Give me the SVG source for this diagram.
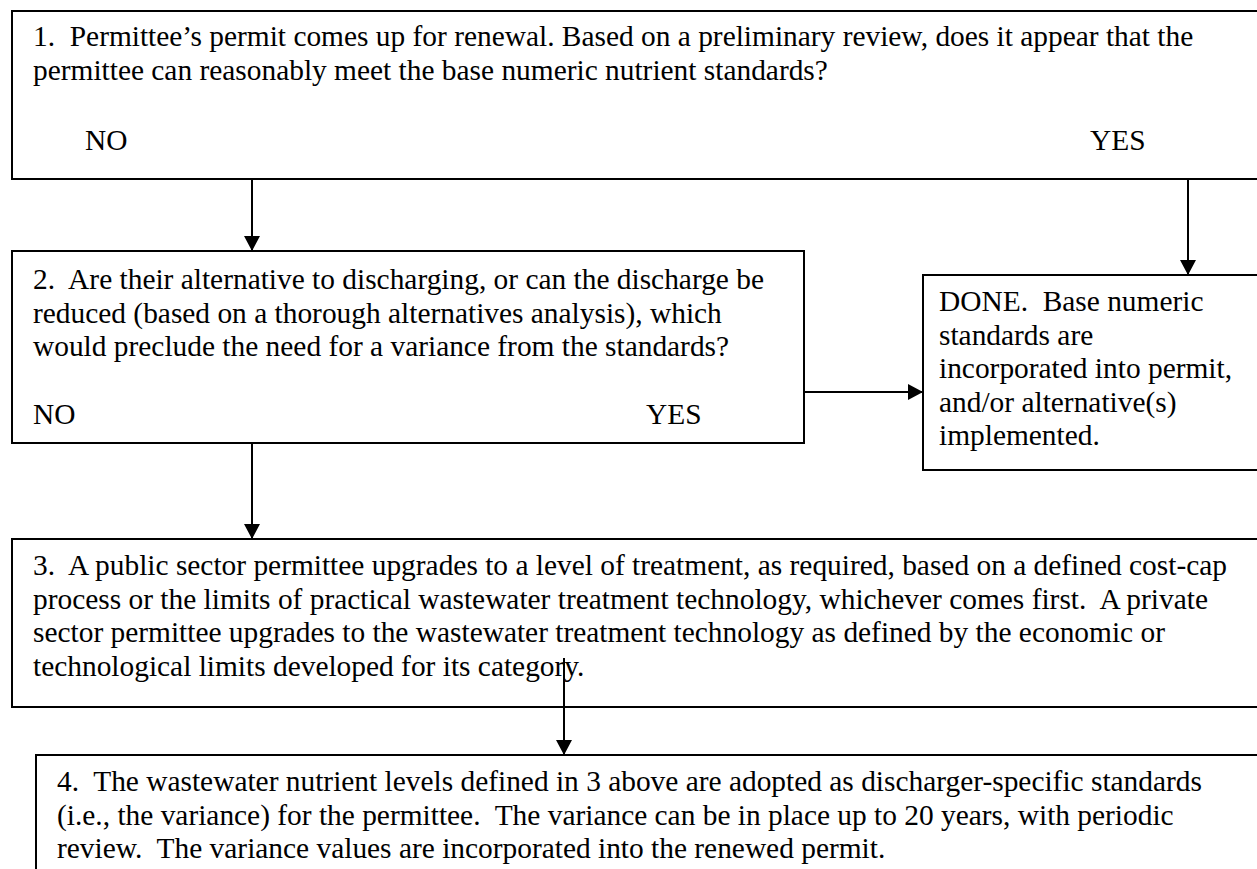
<svg xmlns="http://www.w3.org/2000/svg" width="1257" height="869" viewBox="0 0 1257 869">
<style>
.box{fill:#fff;stroke:#000;stroke-width:2}
.t{font-family:"Liberation Serif","Times New Roman",serif;font-size:29.4px;fill:#000;white-space:pre}
.c{stroke:#000;stroke-width:2;fill:none}
</style>
<defs>
<marker id="ah" viewBox="0 0 15 16" refX="15" refY="8" markerWidth="15" markerHeight="16" markerUnits="userSpaceOnUse" orient="auto">
<path d="M0,0 L15,8 L0,16 z" fill="#000"/>
</marker>
</defs>
<rect width="1257" height="869" fill="#fff"/>
<g id="node1">
<rect class="box" x="12" y="11" width="1260" height="168"/>
<text class="t" x="33" y="46">1.  Permittee’s permit comes up for renewal. Based on a preliminary review, does it appear that the</text>
<text class="t" x="33" y="79.5">permittee can reasonably meet the base numeric nutrient standards?</text>
<text class="t" x="85" y="150">NO</text>
<text class="t" x="1090" y="150">YES</text>
</g>
<g id="node2">
<rect class="box" x="12" y="251" width="792" height="192"/>
<text class="t" x="33" y="289">2.  Are their alternative to discharging, or can the discharge be</text>
<text class="t" x="33" y="322.5">reduced (based on a thorough alternatives analysis), which</text>
<text class="t" x="33" y="356">would preclude the need for a variance from the standards?</text>
<text class="t" x="33" y="424">NO</text>
<text class="t" x="646" y="424">YES</text>
</g>
<g id="done">
<rect class="box" x="923" y="275" width="350" height="195"/>
<text class="t" x="939" y="311">DONE.  Base numeric</text>
<text class="t" x="939" y="344.5">standards are</text>
<text class="t" x="939" y="378">incorporated into permit,</text>
<text class="t" x="939" y="411.5">and/or alternative(s)</text>
<text class="t" x="939" y="445">implemented.</text>
</g>
<g id="node3">
<rect class="box" x="12" y="539" width="1260" height="168"/>
<text class="t" x="33" y="575">3.  A public sector permittee upgrades to a level of treatment, as required, based on a defined cost-cap</text>
<text class="t" x="33" y="608.5">process or the limits of practical wastewater treatment technology, whichever comes first.  A private</text>
<text class="t" x="33" y="642">sector permittee upgrades to the wastewater treatment technology as defined by the economic or</text>
<text class="t" x="33" y="675.5">technological limits developed for its category.</text>
</g>
<g id="node4">
<rect class="box" x="36" y="755" width="1240" height="130"/>
<text class="t" x="57" y="791">4.  The wastewater nutrient levels defined in 3 above are adopted as discharger-specific standards</text>
<text class="t" x="57" y="824.5">(i.e., the variance) for the permittee.  The variance can be in place up to 20 years, with periodic</text>
<text class="t" x="57" y="858">review.  The variance values are incorporated into the renewed permit.</text>
</g>
<g id="connectors">
<line class="c" x1="252" y1="179" x2="252" y2="251" marker-end="url(#ah)"/>
<line class="c" x1="1188" y1="179" x2="1188" y2="275" marker-end="url(#ah)"/>
<line class="c" x1="804" y1="392" x2="923" y2="392" marker-end="url(#ah)"/>
<line class="c" x1="252" y1="443" x2="252" y2="539" marker-end="url(#ah)"/>
<line class="c" x1="564" y1="658" x2="564" y2="755" marker-end="url(#ah)"/>
</g>
</svg>
